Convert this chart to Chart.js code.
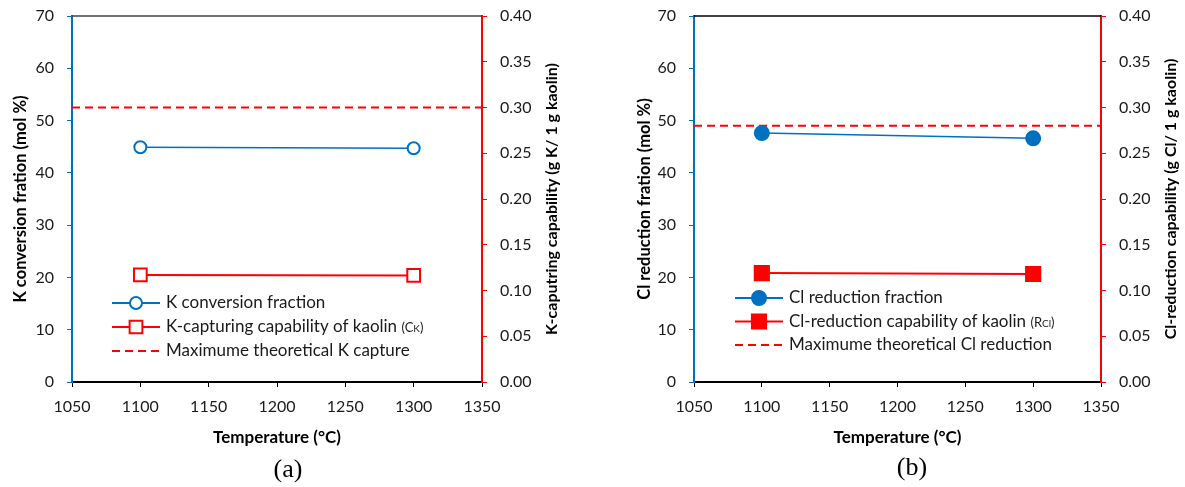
<!DOCTYPE html>
<html>
<head>
<meta charset="utf-8">
<script src="https://cdn.jsdelivr.net/npm/chart.js@4.4.1/dist/chart.umd.min.js"></script>
<style>
  body { margin: 0; width: 1185px; height: 487px; background: #fff; position: relative; overflow: hidden; }
  canvas { position: absolute; top: 0; }
  .cap { position: absolute; width: 100px; text-align: center; font: 26px "Liberation Serif", serif; line-height: 30px; color: #000; }
</style>
</head>
<body>
<canvas id="chartA" width="600" height="455" style="left:0"></canvas>
<canvas id="chartB" width="561" height="455" style="left:624px"></canvas>
<div class="cap" style="left:238px; top:454px">(a)</div>
<div class="cap" style="left:862px; top:452px">(b)</div>
<script>
// shared axes
const xMin = 1050, xMax = 1350, xStep = 50;
const leftMax = 70, leftStep = 10;
const rightMax = 0.40, rightStep = 0.05;
const temperatures = [1100, 1300];

// (a) potassium
const kConversion = [44.9, 44.7];
const kCapturing = [0.117, 0.1165];
const kMaxCapture = 0.30;
const kLabels = ['K conversion fraction', 'K-capturing capability of kaolin', 'Maximume theoretical K capture'];
const kNote = ['C', 'K'];

// (b) chlorine
const clReduction = [47.6, 46.6];
const clCapability = [0.119, 0.118];
const clMaxReduction = 0.28;
const clLabels = ['Cl reduction fraction', 'Cl-reduction capability of kaolin', 'Maximume theoretical Cl reduction'];
const clNote = ['R', 'Cl'];

const BLUE = '#0070C0';
const RED = '#FF0000';
const FONT = 'Lato, "Open Sans", sans-serif';

const pts = (xs, ys) => xs.map((x, i) => ({ x: x, y: ys[i] }));

// legend, top border and right-axis title (rotated like the left one)
const extras = {
  id: 'extras',
  afterDraw(chart, args, o) {
    const { ctx, chartArea: a } = chart;
    ctx.save();
    ctx.strokeStyle = o.topColor;
    ctx.lineWidth = 1.5;
    ctx.beginPath();
    ctx.moveTo(a.left, a.top);
    ctx.lineTo(a.right, a.top);
    ctx.stroke();

    ctx.save();
    ctx.translate(a.right + 70, (a.top + a.bottom) / 2);
    ctx.rotate(-Math.PI / 2);
    ctx.font = 'bold 16px ' + FONT;
    ctx.fillStyle = '#000';
    ctx.textAlign = 'center';
    ctx.textBaseline = 'middle';
    ctx.fillText(o.rightTitle, 0, 0);
    ctx.restore();

    chart.data.datasets.forEach((ds, i) => {
      const y = a.top + o.legendY + i * o.rowGap;
      const x0 = a.left + o.legendX, x1 = x0 + 48, mx = x0 + 24;
      ctx.save();
      ctx.strokeStyle = ds.borderColor;
      ctx.lineWidth = 2;
      ctx.setLineDash(ds.borderDash || []);
      ctx.beginPath();
      ctx.moveTo(x0, y);
      ctx.lineTo(x1, y);
      ctx.stroke();
      ctx.setLineDash([]);
      if (ds.pointRadius > 0) {
        ctx.fillStyle = ds.pointBackgroundColor;
        ctx.lineWidth = ds.pointBorderWidth;
        ctx.beginPath();
        if (ds.pointStyle === 'rect') {
          const h = ds.pointRadius * Math.SQRT1_2;
          ctx.rect(mx - h, y - h, 2 * h, 2 * h);
        } else {
          ctx.arc(mx, y, ds.pointRadius, 0, Math.PI * 2);
        }
        ctx.fill();
        ctx.stroke();
      }
      ctx.fillStyle = '#1a1a1a';
      ctx.textBaseline = 'middle';
      ctx.textAlign = 'left';
      ctx.font = '17px ' + FONT;
      let tx = x0 + 54;
      ctx.fillText(o.labels[i], tx, y);
      if (i === 1) {
        tx += ctx.measureText(o.labels[i] + ' ').width;
        ctx.font = '13px ' + FONT;
        ctx.fillText('(' + o.note[0], tx, y + 1);
        tx += ctx.measureText('(' + o.note[0]).width;
        ctx.font = '10px ' + FONT;
        ctx.fillText(o.note[1], tx, y + 2);
        tx += ctx.measureText(o.note[1]).width;
        ctx.font = '13px ' + FONT;
        ctx.fillText(')', tx, y + 1);
      }
      ctx.restore();
    });
    ctx.restore();
  }
};

function makeChart(id, cfg) {
  return new Chart(document.getElementById(id), {
    type: 'line',
    data: {
      datasets: [
        {
          label: cfg.labels[0], data: pts(temperatures, cfg.frac), yAxisID: 'y',
          borderColor: BLUE, borderWidth: 1.5, pointStyle: 'circle',
          pointRadius: cfg.filled ? 7 : 6, pointBorderWidth: 2,
          pointBackgroundColor: cfg.filled ? BLUE : '#fff', pointBorderColor: BLUE
        },
        {
          label: cfg.labels[1], data: pts(temperatures, cfg.cap), yAxisID: 'y1',
          borderColor: RED, borderWidth: 2, pointStyle: 'rect',
          pointRadius: cfg.filled ? 10 : 9, pointBorderWidth: 2,
          pointBackgroundColor: cfg.filled ? RED : '#fff', pointBorderColor: RED
        },
        {
          label: cfg.labels[2], data: pts([xMin, xMax], [cfg.max, cfg.max]), yAxisID: 'y1',
          borderColor: RED, borderWidth: 2, borderDash: [8, 5], pointRadius: 0
        }
      ]
    },
    options: {
      responsive: false,
      animation: false,
      events: [],
      layout: { padding: { top: 16, left: 0, right: 0, bottom: 0 } },
      plugins: {
        legend: { display: false },
        tooltip: { enabled: false },
        extras: {
          topColor: cfg.topColor, rightTitle: cfg.rightTitle,
          labels: cfg.labels, note: cfg.note,
          legendX: cfg.legendX, legendY: cfg.legendY, rowGap: cfg.rowGap
        }
      },
      scales: {
        x: {
          type: 'linear', min: xMin, max: xMax,
          ticks: { stepSize: xStep, padding: 10, color: '#1a1a1a', font: { family: FONT, size: 16 },
                   maxRotation: 0, autoSkip: false, callback: v => String(v) },
          grid: { drawOnChartArea: false, tickLength: 5, color: '#000' },
          border: { color: '#000', width: 2 },
          title: { display: true, text: 'Temperature (°C)', color: '#000',
                   font: { family: FONT, size: 17, weight: 'bold' }, padding: { top: 0, bottom: 7 } },
          afterFit: s => { s.height = 73; s.paddingLeft = 0; s.paddingRight = 0; }
        },
        y: {
          position: 'left', min: 0, max: leftMax,
          ticks: { stepSize: leftStep, padding: 13, color: '#1a1a1a', font: { family: FONT, size: 16 } },
          grid: { drawOnChartArea: false, tickLength: 5, color: BLUE },
          border: { color: BLUE, width: 2 },
          title: { display: true, text: cfg.leftTitle, color: '#000',
                   font: { family: FONT, size: 16.5, weight: 'bold' }, padding: { top: 11 } },
          afterFit: s => { s.width = cfg.leftW; s.paddingTop = 0; s.paddingBottom = 0; }
        },
        y1: {
          position: 'right', min: 0, max: rightMax,
          ticks: { stepSize: rightStep, padding: 13, color: '#1a1a1a', font: { family: FONT, size: 16 },
                   callback: v => v.toFixed(2) },
          grid: { drawOnChartArea: false, tickLength: 5, color: RED },
          border: { color: RED, width: 2 },
          afterFit: s => { s.width = cfg.rightW; s.paddingTop = 0; s.paddingBottom = 0; }
        }
      }
    },
    plugins: [extras]
  });
}

makeChart('chartA', {
  frac: kConversion, cap: kCapturing, max: kMaxCapture, labels: kLabels, note: kNote,
  filled: false, topColor: '#404040', leftW: 72, rightW: 118,
  leftTitle: 'K conversion fration (mol %)',
  rightTitle: 'K-caputring capability (g K/ 1 g kaolin)',
  legendX: 40, legendY: 287, rowGap: 24
});

makeChart('chartB', {
  frac: clReduction, cap: clCapability, max: clMaxReduction, labels: clLabels, note: clNote,
  filled: true, topColor: '#000', leftW: 70, rightW: 84,
  leftTitle: 'Cl reduction fration (mol %)',
  rightTitle: 'Cl-reduction capability (g Cl/ 1 g kaolin)',
  legendX: 41, legendY: 282, rowGap: 23.5
});
</script>
</body>
</html>
